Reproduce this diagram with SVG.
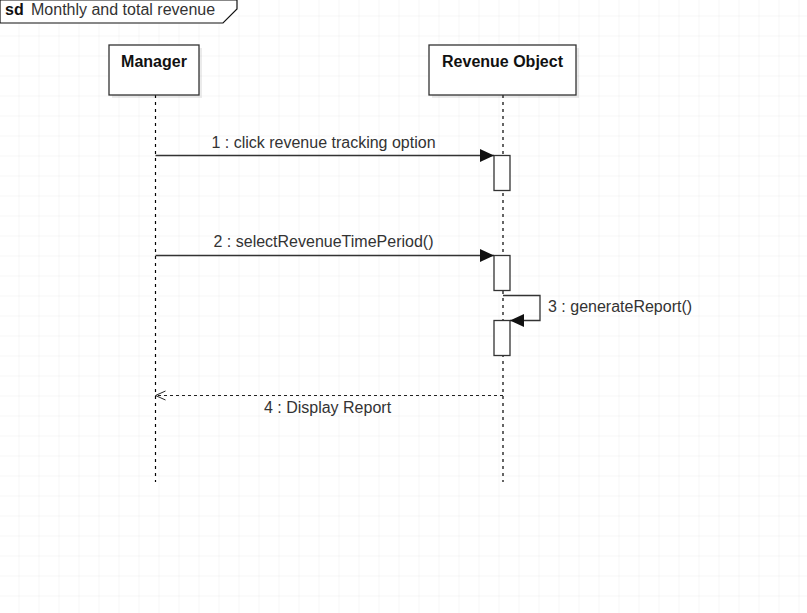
<svg xmlns="http://www.w3.org/2000/svg" width="807" height="613" viewBox="0 0 807 613">
  <defs>
    <pattern id="grid" x="-0.5" y="-3.5" width="20" height="20" patternUnits="userSpaceOnUse">
      <path d="M20 0 V20 M0 20 H20" fill="none" stroke="#ececec" stroke-width="1"/>
    </pattern>
    <marker id="filled" markerWidth="14" markerHeight="13" refX="14" refY="6.5" orient="auto" markerUnits="userSpaceOnUse">
      <path d="M0 0 L14 6.5 L0 13 Z" fill="#111"/>
    </marker>
    <marker id="open" markerWidth="12" markerHeight="12" refX="10.5" refY="6" orient="auto" markerUnits="userSpaceOnUse">
      <path d="M0.5 1.5 L10.5 6 L0.5 10.5" fill="none" stroke="#222" stroke-width="1"/>
    </marker>
  </defs>
  <style>
    text { font-family: "Liberation Sans", Arial, sans-serif; font-size: 16px; fill: #333; }
    .head { font-weight: bold; fill: #111; text-anchor: middle; }
    .lbl { text-anchor: middle; }
    .box { fill: #fff; stroke: #333; stroke-width: 1.3; }
    .shadow { fill: #000; fill-opacity: 0.08; }
    .life { fill: none; stroke: #000; stroke-width: 1.2; stroke-dasharray: 3 4; }
    .act { fill: #fff; stroke: #333; stroke-width: 1.3; }
    .msg { fill: none; stroke: #333; stroke-width: 1.3; }
    .ret { fill: none; stroke: #222; stroke-width: 1.2; stroke-dasharray: 3 3; }
  </style>

  <rect width="807" height="613" fill="#fff"/>
  <rect width="807" height="613" fill="url(#grid)"/>

  <!-- frame tab -->
  <g id="frame">
    <path d="M0 0 H237 V9 L223 23 H0 Z" fill="#fff" stroke="#111" stroke-width="1.2"/>
    <text x="5" y="15" style="font-weight:bold;fill:#111">sd</text>
    <text x="31" y="15">Monthly and total revenue</text>
  </g>

  <!-- lifelines -->
  <g id="manager">
    <line class="life" x1="155.5" y1="95" x2="155.5" y2="482"/>
    <rect class="shadow" x="112" y="48" width="90" height="50"/>
    <rect class="box" x="109" y="45" width="90" height="50"/>
    <text class="head" x="154" y="67">Manager</text>
  </g>

  <g id="revenue-object">
    <line class="life" x1="503" y1="95" x2="503" y2="482"/>
    <rect class="shadow" x="432" y="48" width="147" height="50"/>
    <rect class="box" x="429" y="45" width="147" height="50"/>
    <text class="head" x="502.5" y="67">Revenue Object</text>
  </g>

  <!-- activation bars -->
  <g id="activation-1"><rect class="act" x="494" y="155.5" width="16" height="35"/></g>
  <g id="activation-2"><rect class="act" x="494" y="255.5" width="16" height="35"/></g>
  <g id="activation-3"><rect class="act" x="494" y="320.5" width="16" height="35"/></g>

  <!-- messages -->
  <g id="connectors">
    <line class="msg" x1="155.5" y1="155.5" x2="494" y2="155.5" marker-end="url(#filled)"/>
    <text class="lbl" x="323.5" y="148">1 : click revenue tracking option</text>

    <line class="msg" x1="155.5" y1="255.5" x2="494" y2="255.5" marker-end="url(#filled)"/>
    <text class="lbl" x="323.5" y="247">2 : selectRevenueTimePeriod()</text>

    <path class="msg" d="M503 295.5 H540 V320.5 H510" marker-end="url(#filled)"/>
    <text x="548" y="312">3 : generateReport()</text>

    <line class="ret" x1="503" y1="395.5" x2="155.5" y2="395.5" marker-end="url(#open)"/>
    <text class="lbl" x="327.5" y="413">4 : Display Report</text>
  </g>
</svg>
